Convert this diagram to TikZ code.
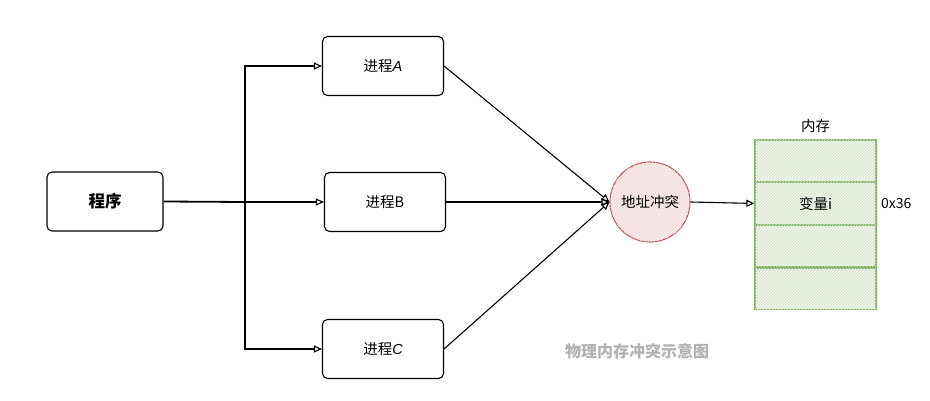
\documentclass[tikz,border=0pt]{standalone}
\usepackage{fontspec}
\usepackage{tikz}
\usetikzlibrary{positioning,arrows.meta,patterns}
\setmainfont{Noto Sans CJK SC}
\newfontfamily\latinit{Liberation Sans}
\definecolor{memgreen}{HTML}{82B366}
\definecolor{memfill}{HTML}{EEF6EA}
\definecolor{hotred}{HTML}{B85450}
\definecolor{hotfill}{HTML}{FBEDEC}

\tikzset{
    procbox/.style={draw, line width=1.1pt, rounded corners=5pt, minimum width=121pt, minimum height=59pt, font=\fontsize{14.5}{17}\selectfont},
    link/.style={line width=1.1pt, -{Triangle[open,length=8pt,width=7pt]}},
    memrow/.style={draw=memgreen, line width=1.2pt, fill=memfill, minimum width=121pt, minimum height=41.5pt, inner sep=0pt, postaction={pattern=north east lines, pattern color=memgreen!35}, font=\fontsize{14.5}{17}\selectfont}
}

\begin{document}
\begin{tikzpicture}[x=1pt, y=-1pt]
        \useasboundingbox (0,0) rectangle (930,401);

        % program and processes
        \node[procbox, minimum width=116pt, font=\fontsize{16.5}{19}\selectfont\bfseries] (prog) at (105,201.5) {程序};
        \node[procbox] (procA) at (383,66) {进程{\latinit\itshape A}};
        \node[procbox] (procB) at (385,202) {进程B};
        \node[procbox] (procC) at (383,349) {进程{\latinit\itshape C}};

        \coordinate (split) at (245,202);
        \draw[line width=1.8pt] (prog.east) -- (split);
        \draw[link] (split) |- (procA.west);
        \draw[link] (split) -- (procB.west);
        \draw[link] (split) |- (procC.west);

        % address conflict
        \node[circle, draw=hotred, line width=1.1pt, fill=hotfill, minimum size=80pt, inner sep=0pt,
              postaction={pattern=north east lines, pattern color=hotred!25},
              font=\fontsize{14.5}{17}\selectfont] (conflict) at (650,202) {地址冲突};
        \draw[link] (procA.east) -- (conflict.west);
        \draw[link] (procB.east) -- (conflict.west);
        \draw[link] (procC.east) -- (conflict.west);

        % memory
        \node[memrow] (mem1) at (815.5,160.75) {};
        \node[memrow, below=0pt of mem1] (mem2) {变量i};
        \node[memrow, below=0pt of mem2] (mem3) {};
        \node[memrow, below=0pt of mem3] (mem4) {};
        \node[font=\fontsize{14.5}{17}\selectfont, above=3pt of mem1] (memtitle) {内存};
        \node[font=\fontsize{14}{17}\selectfont, right=1pt of mem2] (addr) {0x36};
        \draw[link] (conflict.east) -- (mem2.west);

        \node[font=\fontsize{16}{19}\selectfont\bfseries, text=gray!60] (caption) at (637,351) {物理内存冲突示意图};
    \end{tikzpicture}
\end{document}
